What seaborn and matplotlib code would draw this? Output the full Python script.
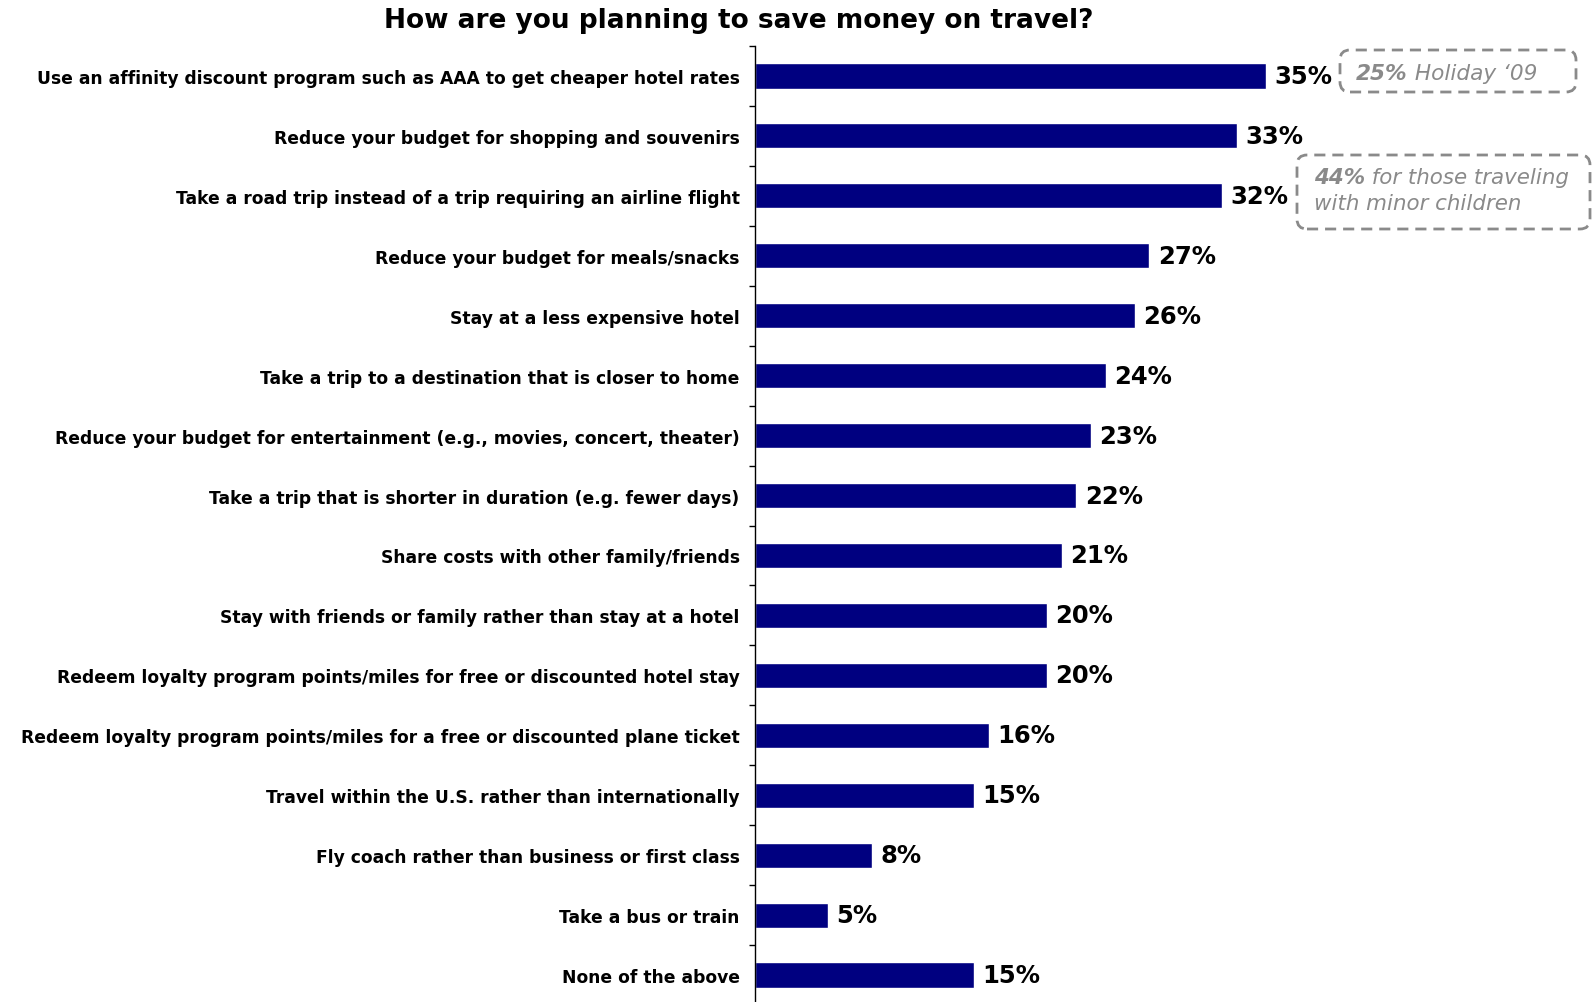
import matplotlib
matplotlib.use("Agg")
import matplotlib.pyplot as plt
import seaborn as sns
import pandas as pd
from matplotlib.patches import FancyBboxPatch
from matplotlib.ticker import FixedLocator

categories = [
    "Use an affinity discount program such as AAA to get cheaper hotel rates",
    "Reduce your budget for shopping and souvenirs",
    "Take a road trip instead of a trip requiring an airline flight",
    "Reduce your budget for meals/snacks",
    "Stay at a less expensive hotel",
    "Take a trip to a destination that is closer to home",
    "Reduce your budget for entertainment (e.g., movies, concert, theater)",
    "Take a trip that is shorter in duration (e.g. fewer days)",
    "Share costs with other family/friends",
    "Stay with friends or family rather than stay at a hotel",
    "Redeem loyalty program points/miles for free or discounted hotel stay",
    "Redeem loyalty program points/miles for a free or discounted plane ticket",
    "Travel within the U.S. rather than internationally",
    "Fly coach rather than business or first class",
    "Take a bus or train",
    "None of the above",
]
values = [35, 33, 32, 27, 26, 24, 23, 22, 21, 20, 20, 16, 15, 8, 5, 15]

title = "How are you planning to save money on travel?"
note1_bold = "25%"
note1_rest = " Holiday \u201809"
note2_bold = "44%"
note2_rest = " for those traveling"
note2_line2 = "with minor children"

df = pd.DataFrame({"option": categories, "pct": values})

sns.set_theme(style="white")
plt.rcParams["font.family"] = ["DejaVu Sans"]

W, H = 1595, 1003
fig = plt.figure(figsize=(W / 100, H / 100), dpi=100)
fig.patch.set_facecolor("white")

# axes: left edge at the y-axis line, rows spaced evenly down the page
ax_left, ax_right = 755 / W, 1.0
ax_top, ax_bottom = 1 - 47 / H, 1 - 1006 / H
ax = fig.add_axes([ax_left, ax_bottom, ax_right - ax_left, ax_top - ax_bottom])

sns.barplot(data=df, x="pct", y="option", order=categories, orient="h",
            color="#000080", width=0.42, saturation=1, ax=ax)

ax.set_xlim(0, 57.5)
ax.set_ylim(len(categories) - 0.5, -0.5)
ax.set_xlabel("")
ax.set_ylabel("")
ax.set_xticks([])

for s in ["top", "right", "bottom"]:
    ax.spines[s].set_visible(False)
ax.spines["left"].set_color("black")
ax.spines["left"].set_linewidth(1.0)

ax.tick_params(axis="y", which="major", length=0, pad=11)
ax.yaxis.set_minor_locator(FixedLocator([i - 0.5 for i in range(len(categories) + 1)]))
ax.tick_params(axis="y", which="minor", length=4, width=1, color="black", direction="out", left=True)
for lbl in ax.get_yticklabels():
    lbl.set_fontsize(12.3)
    lbl.set_fontweight("bold")
    lbl.set_color("black")

# value labels at the end of each bar
for i, v in enumerate(values):
    ax.annotate(f"{v}%", xy=(v, i), xytext=(6, 0), textcoords="offset points",
                ha="left", va="center", fontsize=17.5, fontweight="bold", color="black")

fig.text(739 / W, 1 - 21 / H, title, ha="center", va="center",
         fontsize=19, fontweight="bold", color="black")

# dashed callout boxes (in inches from the lower-left corner)
def callout(x0, y0, x1, y1):
    box = FancyBboxPatch((x0 / 100, (H - y1) / 100), (x1 - x0) / 100, (y1 - y0) / 100,
                         boxstyle="round,pad=0,rounding_size=0.1",
                         transform=fig.dpi_scale_trans, fill=False,
                         edgecolor="#8a8a8a", linewidth=2, linestyle=(0, (4, 2.5)))
    fig.patches.append(box)

callout(1340, 51, 1576, 93)
callout(1297, 156, 1590, 230)

grey = "#8a8a8a"
t1 = fig.text(1356 / W, 1 - 74 / H, note1_bold, ha="left", va="center",
              fontsize=15.6, fontstyle="italic", fontweight="bold", color=grey)
ax.annotate(note1_rest, xy=(1, 0.5), xycoords=t1, ha="left", va="center",
            fontsize=15.6, fontstyle="italic", color=grey, annotation_clip=False)

t2 = fig.text(1314 / W, 1 - 178 / H, note2_bold, ha="left", va="center",
              fontsize=15.4, fontstyle="italic", fontweight="bold", color=grey)
ax.annotate(note2_rest, xy=(1, 0.5), xycoords=t2, ha="left", va="center",
            fontsize=15.4, fontstyle="italic", color=grey, annotation_clip=False)
fig.text(1314 / W, 1 - 204 / H, note2_line2, ha="left", va="center",
         fontsize=15.4, fontstyle="italic", color=grey)

fig.savefig("out.png", dpi=100, facecolor="white")
